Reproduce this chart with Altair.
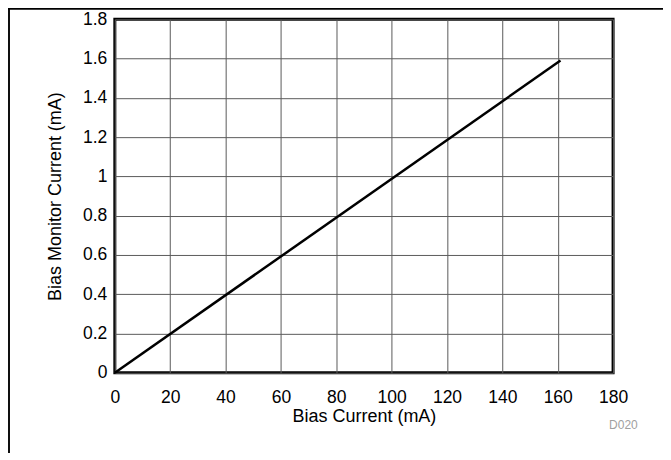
import altair as alt
import pandas as pd

bias_current = [0, 161]
monitor_current = [0, 1.59]
x_ticks = [0, 20, 40, 60, 80, 100, 120, 140, 160, 180]
y_ticks = [0, 0.2, 0.4, 0.6, 0.8, 1.0, 1.2, 1.4, 1.6, 1.8]

df = pd.DataFrame({"x": bias_current, "y": monitor_current})

FONT = "Liberation Sans"
LFS = 17.5
TFS = 18

line = alt.Chart(df).mark_line(color="black", strokeWidth=2.5).encode(
    x=alt.X("x:Q", scale=alt.Scale(domain=[0, 180], nice=False),
            axis=alt.Axis(values=x_ticks, title="Bias Current (mA)", grid=True,
                          gridColor="#5a5a5a", gridWidth=1, ticks=False, domain=False,
                          labelFontSize=LFS, titleFontSize=TFS, labelFont=FONT, titleFont=FONT,
                          labelColor="black", titleColor="black", titleFontWeight="normal",
                          labelPadding=16, titlePadding=1, labelFlush=False,
                          labelExpr="format(datum.value, '~g')")),
    y=alt.Y("y:Q", scale=alt.Scale(domain=[0, 1.8], nice=False),
            axis=alt.Axis(values=y_ticks, title="Bias Monitor Current (mA)", grid=True,
                          gridColor="#5a5a5a", gridWidth=1, ticks=False, domain=False,
                          labelFontSize=LFS, titleFontSize=TFS, labelFont=FONT, titleFont=FONT,
                          labelColor="black", titleColor="black", titleFontWeight="normal",
                          labelPadding=8, titlePadding=18, labelFlush=False,
                          labelExpr="format(datum.value, '~g')")),
)

left_rule = alt.Chart(df).mark_rule(color="black", strokeWidth=1.5).encode(
    x=alt.value(-106), y=alt.value(-11), y2=alt.value(450)
)
top_rule = alt.Chart(df).mark_rule(color="black", strokeWidth=1.5).encode(
    x=alt.value(-107), x2=alt.value(560), y=alt.value(-10.5)
)
label = alt.Chart(pd.DataFrame({"t": ["D020"]})).mark_text(
    font=FONT, fontSize=12, color="#a0a0a0", align="left", baseline="alphabetic"
).encode(text="t:N", x=alt.value(495), y=alt.value(410))

chart = alt.layer(line, left_rule, top_rule, label).properties(
    width=499, height=354,
    autosize=alt.AutoSizeParams(type="none"),
    padding={"left": 107, "top": 11, "right": 50, "bottom": 80},
).configure_view(stroke="black", strokeWidth=3)

chart.save("out.html", embed_options={"renderer": "svg", "actions": False})
